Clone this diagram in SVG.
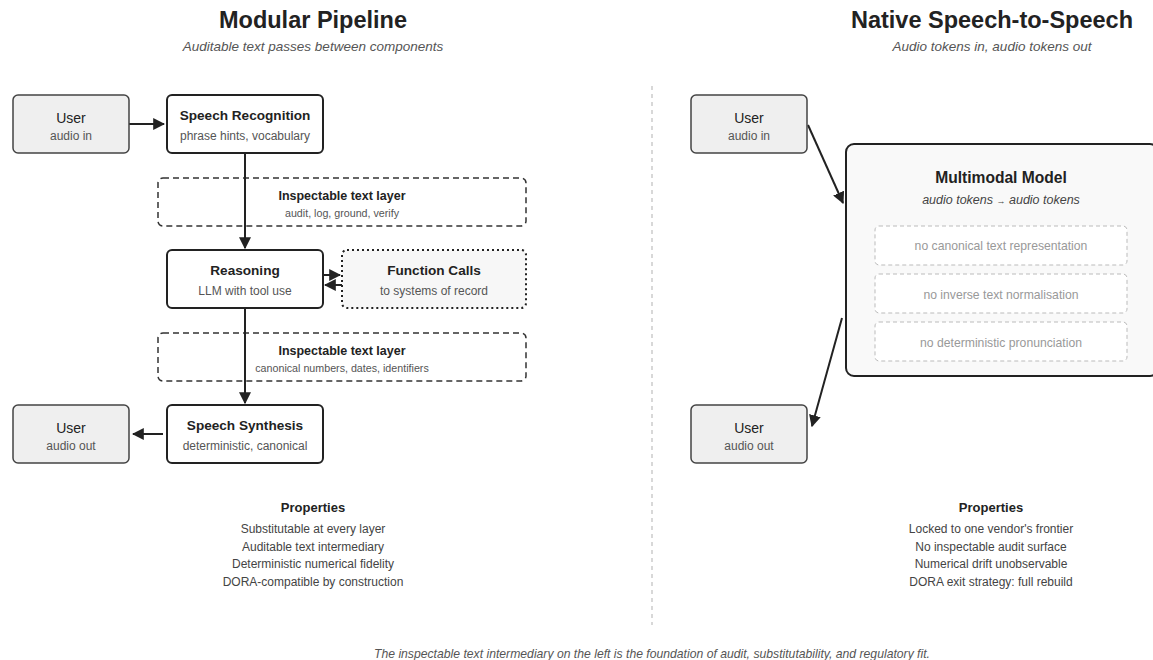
<svg xmlns="http://www.w3.org/2000/svg" width="1153" height="660" viewBox="0 0 1153 660">
<defs>
<marker id="ah" viewBox="0 0 10 10" refX="9" refY="5" markerWidth="12" markerHeight="12" markerUnits="userSpaceOnUse" orient="auto"><path d="M0,0 L10,5 L0,10 z" fill="#222"/></marker>
<style>
text{font-family:"Liberation Sans",Arial,sans-serif;text-anchor:middle}
.title{font-size:23.5px;font-weight:bold;fill:#222}
.sub{font-size:13.5px;font-style:italic;fill:#555}
.user{fill:#efefef;stroke:#444;stroke-width:1.5}
.stage{fill:#fff;stroke:#222;stroke-width:2}
.h{font-size:13.6px;font-weight:bold;fill:#222}
.ut{font-size:14px;fill:#222}
.d{font-size:12px;fill:#555}
.layer{fill:#fff;stroke:#333;stroke-width:1.5;stroke-dasharray:6 4}
.lh{font-size:12.5px;font-weight:bold;fill:#222}
.ld{font-size:10.7px;fill:#555}
.conn{stroke:#222;stroke-width:2;fill:none}
.neg{fill:#fff;stroke:#bbb;stroke-width:1;stroke-dasharray:4 3}
.nt{font-size:12.2px;fill:#999}
.ph{font-size:13px;font-weight:bold;fill:#222}
.pl{font-size:12px;fill:#444}
</style>
</defs>
<rect width="1153" height="660" fill="#fff"/>

<g id="headers">
<text class="title" x="313" y="28">Modular Pipeline</text>
<text class="sub" x="313" y="51">Auditable text passes between components</text>
<text class="title" x="992" y="28">Native Speech-to-Speech</text>
<text class="sub" x="992" y="51">Audio tokens in, audio tokens out</text>
</g>

<line x1="652" y1="86" x2="652" y2="625" stroke="#ccc" stroke-width="1.5" stroke-dasharray="4 4"/>

<g id="layer1">
<rect class="layer" x="158" y="178" width="368" height="48" rx="5"/>
<text class="lh" x="342" y="200">Inspectable text layer</text>
<text class="ld" x="342" y="217">audit, log, ground, verify</text>
</g>
<g id="layer2">
<rect class="layer" x="158" y="333" width="368" height="48" rx="5"/>
<text class="lh" x="342" y="355">Inspectable text layer</text>
<text class="ld" x="342" y="372">canonical numbers, dates, identifiers</text>
</g>

<g id="connectors">
<line class="conn" x1="129" y1="124" x2="164" y2="124" marker-end="url(#ah)"/>
<line class="conn" x1="245" y1="153" x2="245" y2="248" marker-end="url(#ah)"/>
<line class="conn" x1="323" y1="275" x2="340" y2="275" marker-end="url(#ah)"/>
<line class="conn" x1="342" y1="285" x2="325" y2="285" marker-end="url(#ah)"/>
<line class="conn" x1="245" y1="308" x2="245" y2="403" marker-end="url(#ah)"/>
<line class="conn" x1="163" y1="434" x2="133" y2="434" marker-end="url(#ah)"/>
<line class="conn" x1="808" y1="125" x2="843" y2="203" marker-end="url(#ah)"/>
<line class="conn" x1="842" y1="318" x2="812" y2="426" marker-end="url(#ah)"/>
</g>

<g id="user-in-left">
<rect class="user" x="13" y="95" width="116" height="58" rx="5"/>
<text class="ut" x="71" y="123">User</text>
<text class="d" x="71" y="140">audio in</text>
</g>
<g id="speech-recognition">
<rect class="stage" x="167" y="95" width="156" height="58" rx="5"/>
<text class="h" x="245" y="120">Speech Recognition</text>
<text class="d" x="245" y="140">phrase hints, vocabulary</text>
</g>
<g id="reasoning">
<rect class="stage" x="167" y="250" width="156" height="58" rx="5"/>
<text class="h" x="245" y="275">Reasoning</text>
<text class="d" x="245" y="295">LLM with tool use</text>
</g>
<g id="function-calls">
<rect x="342" y="250" width="184" height="58" rx="5" fill="#f7f7f7" stroke="#222" stroke-width="2" stroke-dasharray="2 3"/>
<text class="h" x="434" y="275">Function Calls</text>
<text class="d" x="434" y="295">to systems of record</text>
</g>
<g id="speech-synthesis">
<rect class="stage" x="167" y="405" width="156" height="58" rx="5"/>
<text class="h" x="245" y="430">Speech Synthesis</text>
<text class="d" x="245" y="450">deterministic, canonical</text>
</g>
<g id="user-out-left">
<rect class="user" x="13" y="405" width="116" height="58" rx="5"/>
<text class="ut" x="71" y="433">User</text>
<text class="d" x="71" y="450">audio out</text>
</g>

<g id="user-in-right">
<rect class="user" x="691" y="95" width="116" height="58" rx="5"/>
<text class="ut" x="749" y="123">User</text>
<text class="d" x="749" y="140">audio in</text>
</g>
<g id="multimodal-model">
<rect x="846" y="144" width="312" height="232" rx="8" fill="#f9f9f9" stroke="#222" stroke-width="2"/>
<text x="1001" y="183" style="font-size:15.6px;font-weight:bold;fill:#222">Multimodal Model</text>
<text x="1001" y="204" style="font-size:12.5px;font-style:italic;fill:#444">audio tokens <tspan style="font-size:9px;font-style:normal">→</tspan> audio tokens</text>
<rect class="neg" x="875" y="226" width="252" height="39" rx="4"/>
<text class="nt" x="1001" y="250">no canonical text representation</text>
<rect class="neg" x="875" y="274" width="252" height="39" rx="4"/>
<text class="nt" x="1001" y="299">no inverse text normalisation</text>
<rect class="neg" x="875" y="322" width="252" height="39" rx="4"/>
<text class="nt" x="1001" y="347">no deterministic pronunciation</text>
</g>
<g id="user-out-right">
<rect class="user" x="691" y="405" width="116" height="58" rx="5"/>
<text class="ut" x="749" y="433">User</text>
<text class="d" x="749" y="450">audio out</text>
</g>

<g id="properties-left">
<text class="ph" x="313" y="512">Properties</text>
<text class="pl" x="313" y="533">Substitutable at every layer</text>
<text class="pl" x="313" y="551">Auditable text intermediary</text>
<text class="pl" x="313" y="568">Deterministic numerical fidelity</text>
<text class="pl" x="313" y="586">DORA-compatible by construction</text>
</g>
<g id="properties-right">
<text class="ph" x="991" y="512">Properties</text>
<text class="pl" x="991" y="533">Locked to one vendor's frontier</text>
<text class="pl" x="991" y="551">No inspectable audit surface</text>
<text class="pl" x="991" y="568">Numerical drift unobservable</text>
<text class="pl" x="991" y="586">DORA exit strategy: full rebuild</text>
</g>

<text x="652" y="658" style="font-size:12.2px;font-style:italic;fill:#555">The inspectable text intermediary on the left is the foundation of audit, substitutability, and regulatory fit.</text>
</svg>
